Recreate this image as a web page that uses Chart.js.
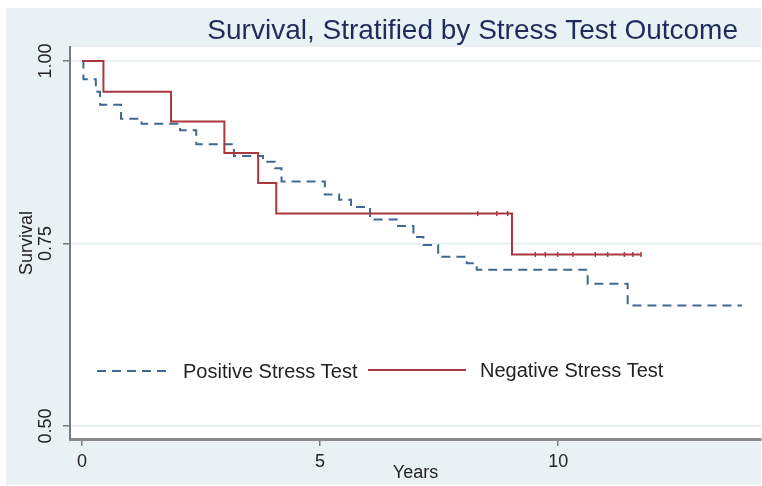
<!DOCTYPE html>
<html>
<head>
<meta charset="utf-8">
<script src="https://cdn.jsdelivr.net/npm/chart.js@4.4.1/dist/chart.umd.min.js"></script>
<style>
  html, body { margin: 0; padding: 0; background: #ffffff; }
  canvas { display: block; }
</style>
</head>
<body>
<canvas id="kmChart" width="762" height="486"></canvas>
<script>
const chartTitle = 'Survival, Stratified by Stress Test Outcome';
const xTitle = 'Years';
const yTitle = 'Survival';
const xTicks = [0, 5, 10];
const yTicks = [0.50, 0.75, 1.00];

// Positive stress test: event times (years) and survival after each step
const posTimes = [0, 0.03, 0.29, 0.38, 0.82, 1.25, 2.06, 2.40, 3.19, 3.80, 4.05, 4.19, 5.10, 5.40, 5.65, 6.05, 6.61, 6.96, 7.17, 7.48, 8.08, 8.29, 10.62, 11.46, 13.86];
const posSurvival = [1.000, 0.975, 0.958, 0.940, 0.921, 0.914, 0.905, 0.886, 0.870, 0.862, 0.853, 0.835, 0.817, 0.810, 0.800, 0.783, 0.774, 0.759, 0.748, 0.732, 0.723, 0.714, 0.695, 0.665, 0.665];

// Negative stress test
const negTimes = [0, 0.45, 1.87, 2.99, 3.70, 4.08, 9.03, 11.74];
const negSurvival = [1.000, 0.958, 0.917, 0.874, 0.833, 0.791, 0.735, 0.735];
const negCensored = [8.31, 8.71, 8.94, 9.52, 9.73, 9.99, 10.31, 10.78, 11.04, 11.39, 11.57, 11.74];

const blue = '#3f6893';
const red = '#a8383e';
const FONT = '"Liberation Sans", Arial, Helvetica, sans-serif';

const toPoints = (xs, ys) => xs.map((x, i) => ({ x: x, y: ys[i] }));
// survival level at a censoring time
const levelAt = (t) => {
  let v = negSurvival[0];
  negTimes.forEach((x, i) => { if (x <= t) v = negSurvival[i]; });
  return v;
};

const stataFrame = {
  id: 'stataFrame',
  beforeDraw(chart) {
    const { ctx, chartArea: a } = chart;
    ctx.save();
    ctx.fillStyle = '#e8f1f3';
    ctx.fillRect(6, 8, 755, 477);
    ctx.fillStyle = '#ffffff';
    ctx.fillRect(a.left, a.top, a.right - a.left, a.bottom - a.top);
    ctx.restore();
  },
  afterDraw(chart) {
    const { ctx } = chart;
    const ys = chart.scales.y;
    ctx.save();
    // title
    ctx.fillStyle = '#1f2b5b';
    ctx.font = '28px ' + FONT;
    ctx.textAlign = 'right';
    ctx.textBaseline = 'alphabetic';
    ctx.fillText(chartTitle, 738, 39);

    // rotated y tick labels
    ctx.fillStyle = '#222222';
    ctx.font = '18px ' + FONT;
    ctx.textAlign = 'center';
    ctx.textBaseline = 'middle';
    yTicks.forEach(v => {
      ctx.save();
      ctx.translate(46, ys.getPixelForValue(v));
      ctx.rotate(-Math.PI / 2);
      ctx.fillText(v.toFixed(2), 0, 0);
      ctx.restore();
    });

    // legend inside the plot region
    const items = [
      { ds: chart.data.datasets[1], x0: 97, x1: 170, tx: 183, y: 371 },
      { ds: chart.data.datasets[0], x0: 368, x1: 466, tx: 480, y: 370 }
    ];
    ctx.font = '20px ' + FONT;
    ctx.textAlign = 'left';
    items.forEach(it => {
      ctx.beginPath();
      ctx.strokeStyle = it.ds.borderColor;
      ctx.lineWidth = it.ds.borderWidth;
      ctx.setLineDash(it.ds.borderDash || []);
      ctx.moveTo(it.x0, it.y);
      ctx.lineTo(it.x1, it.y);
      ctx.stroke();
      ctx.setLineDash([]);
      ctx.fillStyle = '#222222';
      ctx.fillText(it.ds.label, it.tx, it.y + 1);
    });
    ctx.restore();
  }
};

new Chart(document.getElementById('kmChart'), {
  type: 'line',
  data: {
    datasets: [
      {
        label: 'Negative Stress Test',
        data: toPoints(negTimes, negSurvival),
        borderColor: red,
        borderWidth: 2,
        stepped: true,
        pointRadius: 0,
        order: 1
      },
      {
        label: 'Positive Stress Test',
        data: toPoints(posTimes, posSurvival),
        borderColor: blue,
        borderWidth: 2,
        borderDash: [9, 6],
        stepped: true,
        pointRadius: 0,
        order: 2
      },
      {
        label: 'censored',
        data: negCensored.map(t => ({ x: t, y: levelAt(t) })),
        showLine: false,
        pointStyle: 'line',
        rotation: 90,
        pointRadius: 2.5,
        pointBorderWidth: 1.5,
        pointBorderColor: red,
        order: 0
      }
    ]
  },
  options: {
    responsive: false,
    animation: false,
    devicePixelRatio: 1,
    layout: { autoPadding: false, padding: { top: 47, right: 1, bottom: 0, left: 0 } },
    plugins: {
      legend: { display: false },
      title: { display: false },
      tooltip: { enabled: false }
    },
    scales: {
      x: {
        type: 'linear',
        min: -0.252,
        max: 14.26,
        afterBuildTicks: s => { s.ticks = xTicks.map(v => ({ value: v })); },
        afterFit: s => { s.height = 47; },
        grid: { drawOnChartArea: false, drawTicks: true, tickLength: 7, tickColor: '#7a7a7a', lineWidth: 1.5 },
        border: { color: '#8a8a8a', width: 3 },
        ticks: { padding: 5, color: '#222222', font: { family: FONT, size: 18 }, maxRotation: 0, callback: v => String(v) },
        title: { display: true, text: xTitle, color: '#222222', font: { family: FONT, size: 18 }, padding: { top: 0, bottom: 2 } }
      },
      y: {
        min: 0.4822,
        max: 1.0192,
        afterBuildTicks: s => { s.ticks = yTicks.map(v => ({ value: v })); },
        afterFit: s => { s.width = 70; },
        grid: { color: '#e3edf0', lineWidth: 1.5, drawTicks: true, tickLength: 7, tickColor: '#7a7a7a' },
        border: { color: '#7a7a7a', width: 2 },
        ticks: { display: false },
        title: { display: true, text: yTitle, color: '#222222', font: { family: FONT, size: 18 }, padding: { top: 16, bottom: 0 } }
      }
    }
  },
  plugins: [stataFrame]
});
</script>
</body>
</html>
